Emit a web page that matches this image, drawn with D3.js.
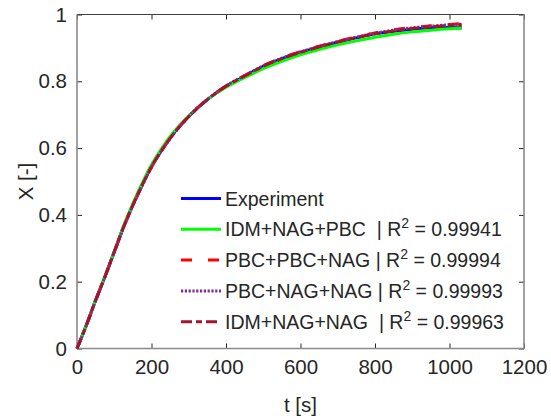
<!DOCTYPE html>
<html>
<head>
  <meta charset="utf-8">
  <script src="https://d3js.org/d3.v7.min.js"></script>
  <style>
    body { margin: 0; background: #fff; }
    text { font-family: "Liberation Sans", Arial, sans-serif; fill: #262626; }
  </style>
</head>
<body>
<script>
  // time [s]
  var time = [0, 25, 50, 75, 100, 125, 150, 175, 200, 225, 250, 275, 300, 350, 400, 450,
              500, 550, 600, 650, 700, 750, 800, 850, 900, 950, 1000, 1033];
  var experiment = [0, 0.07, 0.145, 0.215, 0.29, 0.365, 0.43, 0.49, 0.545, 0.59, 0.63, 0.665, 0.695, 0.745, 0.785, 0.815,
                    0.845, 0.868, 0.887, 0.902, 0.917, 0.93, 0.942, 0.95, 0.956, 0.96, 0.961, 0.96];
  var idmNagPbc = [0, 0.07, 0.145, 0.216, 0.291, 0.367, 0.434, 0.495, 0.55, 0.595, 0.635, 0.668, 0.697, 0.745, 0.782, 0.811,
                   0.838, 0.86, 0.879, 0.895, 0.909, 0.921, 0.932, 0.941, 0.948, 0.953, 0.957, 0.959];
  var pbcPbcNag = [0, 0.068, 0.143, 0.214, 0.288, 0.362, 0.428, 0.488, 0.543, 0.589, 0.629, 0.664, 0.695, 0.746, 0.786, 0.817,
                   0.847, 0.87, 0.889, 0.905, 0.92, 0.933, 0.945, 0.954, 0.961, 0.966, 0.97, 0.973];
  var pbcNagNag = [0, 0.068, 0.143, 0.214, 0.288, 0.362, 0.428, 0.488, 0.543, 0.589, 0.629, 0.664, 0.695, 0.746, 0.786, 0.817,
                   0.846, 0.869, 0.888, 0.904, 0.919, 0.932, 0.944, 0.953, 0.96, 0.965, 0.969, 0.971];
  var idmNagNag = [0, 0.069, 0.144, 0.215, 0.289, 0.363, 0.429, 0.489, 0.544, 0.589, 0.629, 0.664, 0.694, 0.745, 0.785, 0.816,
                   0.845, 0.868, 0.887, 0.903, 0.918, 0.931, 0.942, 0.951, 0.958, 0.963, 0.967, 0.969];

  var seriesNames = ["Experiment", "IDM+NAG+PBC  ", "PBC+PBC+NAG ", "PBC+NAG+NAG ", "IDM+NAG+NAG  "];
  var r2 = [null, "0.99941", "0.99994", "0.99993", "0.99963"];
  var xTicks = [0, 200, 400, 600, 800, 1000, 1200];
  var yTicks = [0, 0.2, 0.4, 0.6, 0.8, 1];

  (function () {
    var series = [
      {name: seriesNames[0], r2: r2[0], values: experiment, color: "#0000ff", dash: null},
      {name: seriesNames[1], r2: r2[1], values: idmNagPbc, color: "#00ff00", dash: null},
      {name: seriesNames[2], r2: r2[2], values: pbcPbcNag, color: "#ff0000", dash: "11,16"},
      {name: seriesNames[3], r2: r2[3], values: pbcNagNag, color: "#7e2f8e", dash: "2.2,1.6"},
      {name: seriesNames[4], r2: r2[4], values: idmNagNag, color: "#a2142f", dash: "11,4,6,4"}
    ];

    var W = 551, H = 420,
        pl = 77, pr = 524, pt = 14.5, pb = 348.5;

    var svg = d3.select("body").append("svg")
        .attr("width", W).attr("height", H);

    var x = d3.scaleLinear().domain([0, 1200]).range([pl, pr]);
    var y = d3.scaleLinear().domain([0, 1]).range([pb, pt]);

    // axes (MATLAB style, ticks inward, box on)
    svg.append("g").attr("transform", "translate(0," + pb + ")")
        .call(d3.axisBottom(x).tickValues(xTicks).tickFormat(d3.format("d"))
          .tickSizeInner(-5).tickSizeOuter(0).tickPadding(11));
    svg.append("g").attr("transform", "translate(" + pl + ",0)")
        .call(d3.axisLeft(y).tickValues(yTicks).tickFormat(d3.format(""))
          .tickSizeInner(-5).tickSizeOuter(0).tickPadding(10));
    svg.append("g").attr("transform", "translate(0," + pt + ")")
        .call(d3.axisTop(x).tickValues(xTicks).tickSizeInner(-5).tickSizeOuter(0).tickFormat(""));
    svg.append("g").attr("transform", "translate(" + pr + ",0)")
        .call(d3.axisRight(y).tickValues(yTicks).tickSizeInner(-5).tickSizeOuter(0).tickFormat(""));

    svg.selectAll(".domain").remove();
    svg.selectAll(".tick line").attr("stroke", "#262626");
    svg.selectAll(".tick text").style("font-size", "20.5px").attr("fill", "#262626");

    // box
    svg.append("line").attr("x1", pl).attr("x2", pr).attr("y1", pt).attr("y2", pt)
      .attr("stroke", "#404040").attr("stroke-width", 1.2);
    svg.append("line").attr("x1", pl).attr("x2", pr).attr("y1", pb).attr("y2", pb)
      .attr("stroke", "#8a8a8a").attr("stroke-width", 1.6);
    svg.append("line").attr("x1", pl).attr("x2", pl).attr("y1", pt).attr("y2", pb)
      .attr("stroke", "#8a8a8a").attr("stroke-width", 1.6);
    svg.append("line").attr("x1", pr).attr("x2", pr).attr("y1", pt).attr("y2", pb)
      .attr("stroke", "#8a8a8a").attr("stroke-width", 1.6);

    var line = d3.line()
        .x(function (d, i) { return x(time[i]); })
        .y(function (d) { return y(d); })
        .curve(d3.curveMonotoneX);

    svg.selectAll(".series")
      .data(series)
      .enter()
      .append("path")
        .attr("fill", "none")
        .attr("stroke", function (d) { return d.color; })
        .attr("stroke-width", 3)
        .attr("stroke-dasharray", function (d) { return d.dash; })
        .attr("d", function (d) { return line(d.values); });

    // labels
    svg.append("text").attr("x", (pl + pr) / 2).attr("y", 412)
      .attr("text-anchor", "middle").style("font-size", "20.5px").text("t [s]");
    svg.append("text").attr("transform", "translate(33," + ((pt + pb) / 2) + ") rotate(-90)")
      .attr("text-anchor", "middle").style("font-size", "20.5px").text("X [-]");

    // legend
    var lg = svg.append("g");
    var rows = lg.selectAll("g").data(series).enter().append("g")
        .attr("transform", function (d, i) { return "translate(181," + (198.5 + i * 30.8) + ")"; });
    rows.append("line").attr("x1", 0).attr("x2", 40).attr("y1", 0).attr("y2", 0)
      .attr("stroke", function (d) { return d.color; })
      .attr("stroke-width", 3)
      .attr("stroke-dasharray", function (d) { return d.dash; });
    var txt = rows.append("text").attr("x", 44).attr("y", 7)
      .style("font-size", "19.5px").style("white-space", "pre");
    txt.append("tspan").text(function (d) { return d.name; });
    txt.filter(function (d) { return d.r2; }).each(function (d) {
      var t = d3.select(this);
      t.append("tspan").text("| R");
      t.append("tspan").attr("dy", -8).style("font-size", "14px").text("2");
      t.append("tspan").attr("dy", 8).text(" = " + d.r2);
    });
  })();
</script>
</body>
</html>
